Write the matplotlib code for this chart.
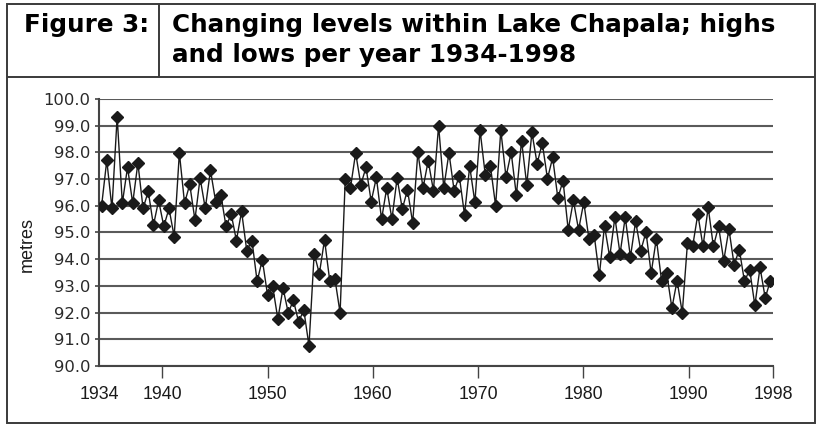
"""Lake Chapala water levels, highs and lows per year 1934-1998."""

import matplotlib

matplotlib.use("Agg")
import matplotlib.pyplot as plt
import numpy as np
from matplotlib.lines import Line2D
from matplotlib.patches import Rectangle

W, H = 818, 425

first_year = 1934
last_year = 1998
tick_years = [1934, 1940, 1950, 1960, 1970, 1980, 1990, 1998]
y_ticks = [90.0, 91.0, 92.0, 93.0, 94.0, 95.0, 96.0, 97.0, 98.0, 99.0, 100.0]

# alternating readings (high / low), metres
levels = [
    96.00, 97.70, 95.90, 99.33, 96.10, 97.44, 96.10, 97.60, 95.90, 96.54,
    95.27, 96.20, 95.23, 95.90, 94.85, 97.98, 96.10, 96.80, 95.48, 97.04,
    95.90, 97.33, 96.16, 96.42, 95.23, 95.69, 94.70, 95.79, 94.32, 94.70,
    93.17, 93.98, 92.67, 92.98, 91.76, 92.92, 91.99, 92.46, 91.65, 92.10,
    90.76, 94.21, 93.46, 94.73, 93.20, 93.27, 91.99, 97.01, 96.67, 97.98,
    96.79, 97.44, 96.16, 97.06, 95.50, 96.67, 95.50, 97.04, 95.88, 96.60,
    95.36, 98.00, 96.67, 97.69, 96.57, 99.00, 96.67, 97.98, 96.57, 97.10,
    95.67, 97.48, 96.13, 98.83, 97.16, 97.48, 96.00, 98.83, 97.08, 98.00,
    96.39, 98.44, 96.79, 98.75, 97.58, 98.35, 97.01, 97.81, 96.29, 96.94,
    95.10, 96.20, 95.10, 96.13, 94.76, 94.92, 93.39, 95.25, 94.08, 95.57,
    94.20, 95.57, 94.08, 95.42, 94.32, 95.02, 93.48, 94.77, 93.20, 93.48,
    92.17, 93.20, 91.99, 94.60, 94.48, 95.69, 94.48, 95.94, 94.48, 95.23,
    93.95, 95.13, 93.79, 94.36, 93.17, 93.61, 92.27, 93.69, 92.55, 93.20,
]

figure_label = "Figure 3:"
title_lines = ["Changing levels within Lake Chapala; highs", "and lows per year 1934-1998"]


def fx(px):
    return px / W


def fy(py):
    return 1.0 - py / H


def frame_line(fig, x0, y0, x1, y1):
    fig.add_artist(Line2D([fx(x0), fx(x1)], [fy(y0), fy(y1)], transform=fig.transFigure,
                          color="#3a3a3a", linewidth=1.4, solid_capstyle="butt"))


fig = plt.figure(figsize=(W / 100, H / 100), dpi=100)

# outer frame and header box
fig.add_artist(Rectangle((fx(7), fy(423)), fx(815) - fx(7), fy(4) - fy(423),
                         transform=fig.transFigure, fill=False,
                         edgecolor="#3a3a3a", linewidth=1.4))
frame_line(fig, 7, 77, 815, 77)
frame_line(fig, 159, 4, 159, 77)

head_font = dict(family="DejaVu Sans", fontweight="bold", fontsize=17.7, color="black",
                 va="baseline", ha="left")
fig.text(fx(24), fy(32), figure_label, **head_font)
fig.text(fx(172), fy(32), title_lines[0], **head_font)
fig.text(fx(172), fy(62), title_lines[1], **head_font)

ax = fig.add_axes([fx(99), fy(366), fx(773) - fx(99), fy(99) - fy(366)])

n = len(levels)
x = first_year + (np.arange(n) + 0.5) * (last_year - first_year) / n
ax.plot(x, levels, color="#1a1a1a", linewidth=1.0, marker="D", markersize=6.0,
        markerfacecolor="#1a1a1a", markeredgecolor="#1a1a1a", zorder=3)

ax.set_xlim(first_year, last_year)
ax.set_ylim(y_ticks[0], y_ticks[-1])
ax.set_yticks(y_ticks)
ax.set_yticklabels([f"{v:.1f}" for v in y_ticks], family="DejaVu Sans", fontsize=11.8,
                   color="#2a2a2a")
ax.set_xticks(tick_years)
ax.set_xticklabels([str(t) for t in tick_years], family="Liberation Sans", fontsize=12.8,
                   color="#1a1a1a")
ax.xaxis.get_major_ticks()[0].tick1line.set_visible(False)

ax.tick_params(axis="y", direction="out", length=3, width=1.2, color="#444444", pad=3)
ax.tick_params(axis="x", direction="out", length=8.5, width=1.0, color="#444444", pad=6)

ax.yaxis.grid(True, color="#5a5a5a", linewidth=1.5)
ax.set_axisbelow(True)
for side in ("top", "right"):
    ax.spines[side].set_visible(False)
for side in ("left", "bottom"):
    ax.spines[side].set_color("#444444")
    ax.spines[side].set_linewidth(1.5)

fig.text(fx(27), fy(245), "metres", family="Liberation Sans", fontsize=13, color="#1a1a1a",
         rotation=90, ha="center", va="center")

fig.savefig("out.png", dpi=100)
plt.close(fig)
